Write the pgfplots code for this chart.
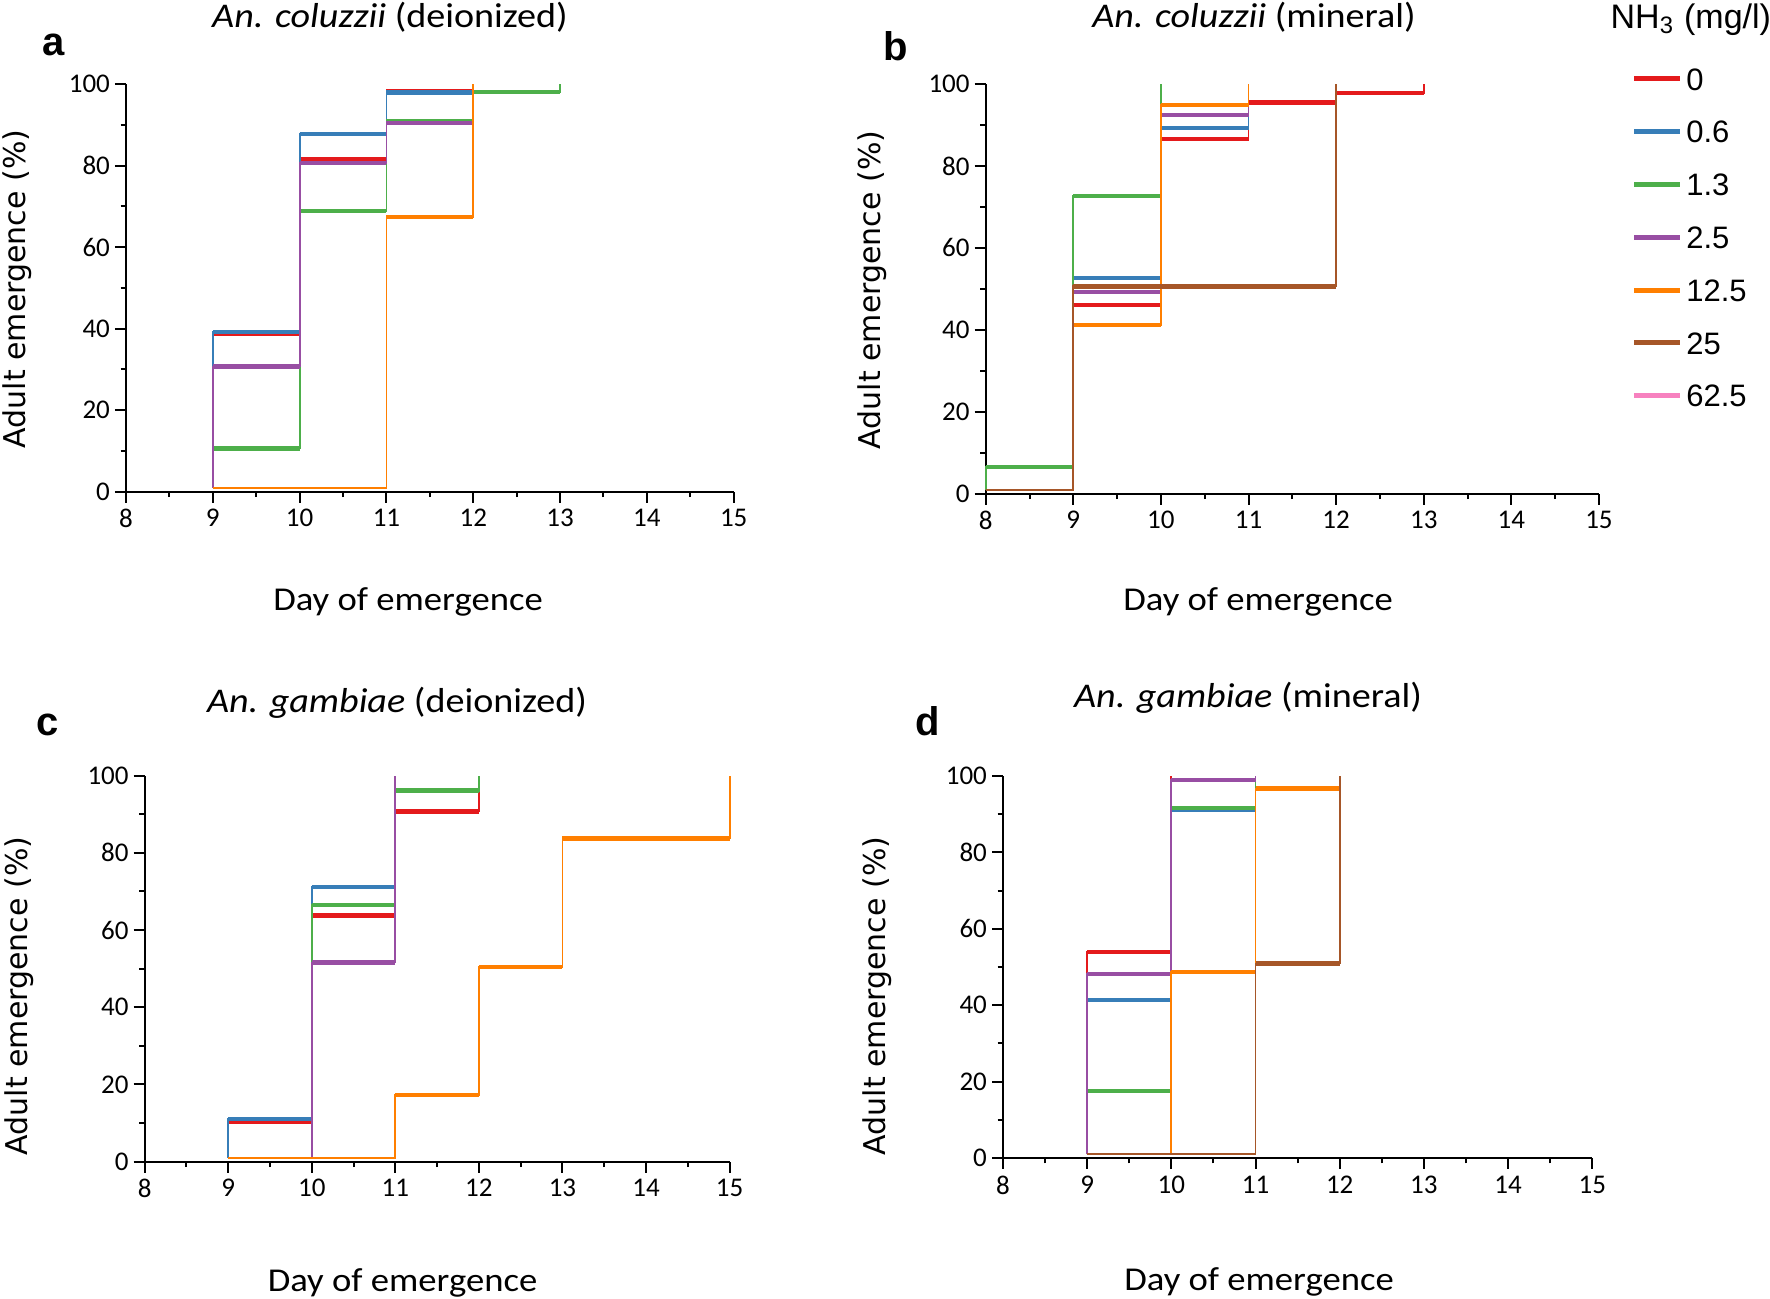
\documentclass[border=0pt]{standalone}
\usepackage{fontspec}
\usepackage{pgfplots}
\pgfplotsset{compat=1.18}
\setmainfont{Carlito}
\newfontfamily\calib[FakeStretch=1.1]{Carlito}
\newfontfamily\verd{DejaVu Sans}
\newfontfamily\arialf{Liberation Sans}

\definecolor{c0}{RGB}{228,26,28}
\definecolor{c1}{RGB}{55,126,184}
\definecolor{c2}{RGB}{77,175,74}
\definecolor{c3}{RGB}{152,78,163}
\definecolor{c4}{RGB}{255,127,0}
\definecolor{c5}{RGB}{166,86,40}
\definecolor{c6}{RGB}{247,129,191}

\pgfplotsset{
  panel/.style={
    scale only axis,
    anchor=south west,
    axis lines=left,
    axis line style={-, line width=0.6pt},
    xmin=8, xmax=15, ymin=0, ymax=100,
    xtick={8,...,15}, ytick={0,20,...,100},
    minor x tick num=1, minor y tick num=1,
    tick align=outside,
    major tick length=3.3pt, minor tick length=1.6pt,
    every tick/.style={line width=0.6pt, black},
    /pgf/number format/assume math mode=true,
    ticklabel style={font=\fontsize{8.1}{9}\selectfont},
    xticklabel style={yshift=1.5pt},
    yticklabel style={xshift=2pt},
    clip=false,
  },
}
% thin step outline (verticals) + thick horizontal levels
\newcommand{\stp}[3]{%
  \addplot[const plot, line width=0.55pt, #1] coordinates {#2};
  \addplot[jump mark left, line width=1.3pt, #1, forget plot] coordinates {#3};}
\newcommand{\ttl}[1]{\calib\fontsize{10.4}{12}\selectfont #1}

\begin{document}
\begin{tikzpicture}
\useasboundingbox (0pt,0pt) rectangle (531pt,-389.7pt);

% ---------- panel a ----------
\begin{axis}[panel, at={(37.8pt,-147.51pt)}, width=182.31pt, height=122.31pt]
\stp{c0}{(9,1) (9,38.6) (10,81.5) (11,98.3) (12,100)}{(9,38.6) (10,81.5) (11,98.3) (12,100)}
\stp{c1}{(9,1) (9,39.2) (10,87.8) (11,97.9) (12,100)}{(9,39.2) (10,87.8) (11,97.9) (12,100)}
\stp{c2}{(9,1) (9,10.6) (10,68.9) (11,90.9) (12,98.1) (13,100)}{(9,10.6) (10,68.9) (11,90.9) (12,98.1) (13,100)}
\stp{c3}{(9,1) (9,30.7) (10,80.6) (11,90.5) (12,100)}{(9,30.7) (10,80.6) (11,90.5) (12,100)}
\stp{c4}{(9,1) (11,67.3) (12,100)}{(11,67.3) (12,100)}
\end{axis}

% ---------- panel b ----------
\begin{axis}[panel, at={(295.71pt,-148.11pt)}, width=183.99pt, height=122.91pt,
  legend image code/.code={\draw[#1, line width=1.5pt] (0pt,0pt) -- (13.8pt,0pt);},
  legend cell align=left,
  legend style={at={(1.0538,1.0398)}, anchor=north west, draw=none, fill=none,
    inner sep=0pt, outer sep=0pt, row sep=9.14pt,
    nodes={inner sep=0pt, outer sep=0pt, text height=6.7pt, text depth=0pt,
      font=\arialf\fontsize{9.3}{10}\selectfont},
    /tikz/every odd column/.append style={column sep=1pt}},
]
\stp{c0}{(8,1) (9,46.0) (10,86.5) (11,95.5) (12,97.8) (13,100)}{(9,46.0) (10,86.5) (11,95.5) (12,97.8) (13,100)}
\addlegendentry{0}
\stp{c1}{(8,1) (9,52.7) (10,89.3) (11,100)}{(9,52.7) (10,89.3) (11,100)}
\addlegendentry{0.6}
\stp{c2}{(8,1) (8,6.5) (9,72.7) (10,100)}{(8,6.5) (9,72.7) (10,100)}
\addlegendentry{1.3}
\stp{c3}{(8,1) (9,49.3) (10,92.4) (11,100)}{(9,49.3) (10,92.4) (11,100)}
\addlegendentry{2.5}
\stp{c4}{(8,1) (9,41.2) (10,94.8) (11,100)}{(9,41.2) (10,94.8) (11,100)}
\addlegendentry{12.5}
\stp{c5}{(8,1) (9,50.6) (12,100)}{(9,50.6) (12,100)}
\addlegendentry{25}
\addlegendimage{c6, line width=1.5pt}
\addlegendentry{62.5}
\end{axis}

% ---------- panel c ----------
\begin{axis}[panel, at={(43.41pt,-348.51pt)}, width=175.47pt, height=115.83pt]
\stp{c0}{(9,1) (9,10.2) (10,63.8) (11,90.7) (12,100)}{(9,10.2) (10,63.8) (11,90.7) (12,100)}
\stp{c1}{(9,1) (9,11.1) (10,71.2) (11,100)}{(9,11.1) (10,71.2) (11,100)}
\stp{c2}{(9,1) (10,66.5) (11,96.1) (12,100)}{(10,66.5) (11,96.1) (12,100)}
\stp{c3}{(9,1) (10,51.6) (11,100)}{(10,51.6) (11,100)}
\stp{c4}{(9,1) (11,17.2) (12,50.4) (13,83.7) (15,100)}{(11,17.2) (12,50.4) (13,83.7) (15,100)}
\end{axis}

% ---------- panel d ----------
\begin{axis}[panel, at={(300.9pt,-347.4pt)}, width=176.79pt, height=114.6pt]
\stp{c0}{(9,1) (9,54.0) (10,100)}{(9,54.0) (10,100)}
\stp{c1}{(9,1) (9,41.3) (10,91.1) (11,100)}{(9,41.3) (10,91.1) (11,100)}
\stp{c2}{(9,1) (9,17.5) (10,91.7) (11,100)}{(9,17.5) (10,91.7) (11,100)}
\stp{c3}{(9,1) (9,48.2) (10,99.0) (11,100)}{(9,48.2) (10,99.0) (11,100)}
\stp{c4}{(9,1) (10,48.7) (11,96.7) (12,100)}{(10,48.7) (11,96.7) (12,100)}
\stp{c5}{(9,1) (11,50.9) (12,100)}{(11,50.9) (12,100)}
\end{axis}

% ---------- titles ----------
\node[anchor=base, inner sep=0pt] at (117pt,-8.25pt) {\ttl{\itshape An. coluzzii\/ \upshape(deionized)}};
\node[anchor=base, inner sep=0pt] at (376.2pt,-8.25pt) {\ttl{\itshape An. coluzzii\/ \upshape(mineral)}};
\node[anchor=base, inner sep=0pt] at (119.1pt,-213.9pt) {\ttl{\itshape An. gambiae\/ \upshape(deionized)}};
\node[anchor=base, inner sep=0pt] at (374.4pt,-212.4pt) {\ttl{\itshape An. gambiae\/ \upshape(mineral)}};

% ---------- panel letters ----------
\node[anchor=base west, inner sep=0pt] at (12.6pt,-16.62pt) {\arialf\bfseries\fontsize{12}{14}\selectfont a};
\node[anchor=base west, inner sep=0pt] at (264.9pt,-18.3pt) {\arialf\bfseries\fontsize{12}{14}\selectfont b};
\node[anchor=base west, inner sep=0pt] at (10.8pt,-220.68pt) {\arialf\bfseries\fontsize{12}{14}\selectfont c};
\node[anchor=base west, inner sep=0pt] at (274.5pt,-220.62pt) {\arialf\bfseries\fontsize{12}{14}\selectfont d};

% ---------- x labels ----------
\node[anchor=base, inner sep=0pt] at (122.4pt,-183.3pt) {\calib\fontsize{10}{12}\selectfont Day of emergence};
\node[anchor=base, inner sep=0pt] at (377.4pt,-183.3pt) {\calib\fontsize{10}{12}\selectfont Day of emergence};
\node[anchor=base, inner sep=0pt] at (120.75pt,-387.6pt) {\calib\fontsize{10}{12}\selectfont Day of emergence};
\node[anchor=base, inner sep=0pt] at (377.7pt,-387.3pt) {\calib\fontsize{10}{12}\selectfont Day of emergence};

% ---------- y labels ----------
\node[rotate=90, inner sep=0pt] at (5.1pt,-86.7pt) {\verd\fontsize{9}{11}\selectfont Adult emergence (\%)};
\node[rotate=90, inner sep=0pt] at (261.6pt,-87pt) {\verd\fontsize{9}{11}\selectfont Adult emergence (\%)};
\node[rotate=90, inner sep=0pt] at (5.85pt,-298.8pt) {\verd\fontsize{9}{11}\selectfont Adult emergence (\%)};
\node[rotate=90, inner sep=0pt] at (263.1pt,-298.8pt) {\verd\fontsize{9}{11}\selectfont Adult emergence (\%)};

% ---------- legend title ----------
\node[anchor=base west, inner sep=0pt] at (483pt,-8.49pt) {\arialf\fontsize{10.2}{12}\selectfont NH\textsubscript{3} (mg/l)};
\end{tikzpicture}
\end{document}
